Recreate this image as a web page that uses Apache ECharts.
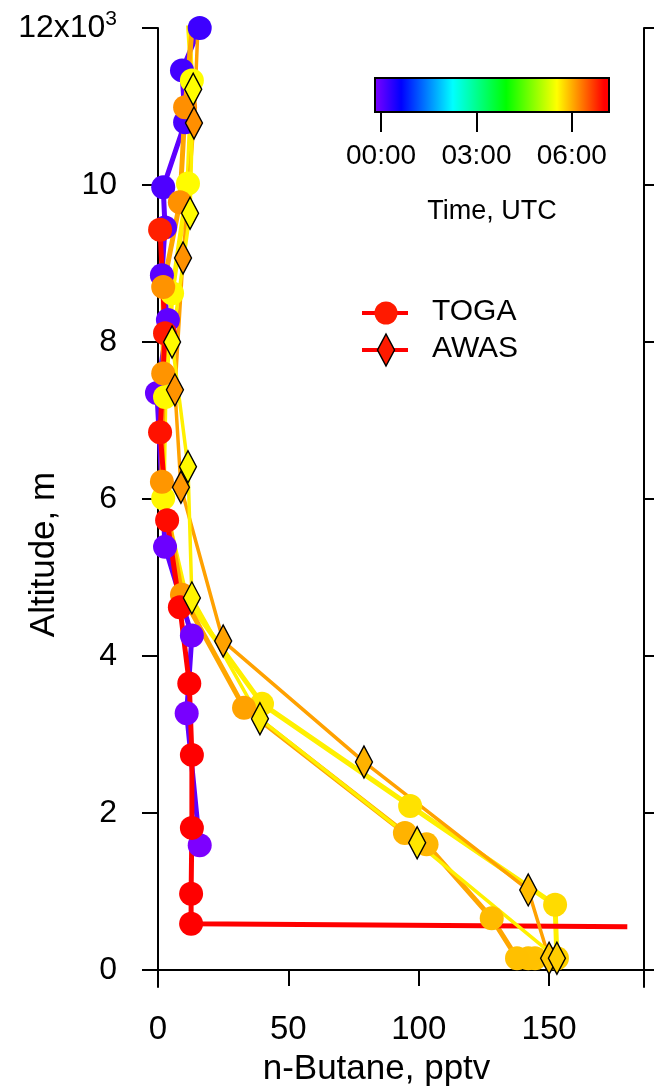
<!DOCTYPE html>
<html><head><meta charset="utf-8">
<script src="https://cdn.jsdelivr.net/npm/echarts@6/dist/echarts.min.js"></script>
<style>html,body{margin:0;padding:0;background:#fff}#c{width:654px;height:1090px}</style>
</head><body><div id="c"></div>
<script>
// ---- data (n-Butane pptv, altitude m, time UTC hours) ----
// TOGA, flight 1 (purple)
const togaPurpleX = [16, 11, 13, 2.7, -0.4, 3.8, 1.5, 2.7, 2, 10.4, 9.2, 16];
const togaPurpleAlt = [1590, 3270, 4260, 5390, 7350, 8280, 8850, 9460, 9970, 10800, 11460, 12000];
const togaPurpleT = [-0.17, -0.14, -0.1, -0.06, -0.02, 0.02, 0.06, 0.1, 0.14, 0.18, 0.22, 0.25];
// TOGA, descent (yellow)
const togaYellowX = [11.5, 13, 11.5, 5.4, 2.7, 2, 11, 39.9, 96.7, 152.3, 153];
const togaYellowAlt = [12150, 11330, 10020, 8620, 7300, 6010, 4720, 3390, 2090, 830, 150];
const togaYellowT = [5.5, 5.52, 5.53, 5.54, 5.55, 5.56, 5.6, 5.65, 5.68, 5.72, 5.78];
// TOGA, low level + ascent (orange)
const togaOrangeX = [144.6, 142, 137.7, 128, 103, 94.7, 33, 9.2, 1.5, 2, 2, 8.4, 10.4, 13.5];
const togaOrangeAlt = [150, 150, 150, 660, 1600, 1745, 3340, 4780, 6220, 7600, 8700, 9780, 10990, 12150];
const togaOrangeT = [5.86, 5.87, 5.88, 5.9, 5.93, 5.95, 6.05, 6.1, 6.12, 6.13, 6.14, 6.15, 6.16, 6.17];
// TOGA, last flight (red); final point is the low-level run, no marker
const togaRedX = [0.8, 2.7, 0.8, 3.5, 8.4, 12, 13, 13, 12.7, 12.7, 180];
const togaRedAlt = [9430, 8110, 6850, 5730, 4620, 3650, 2740, 1810, 970, 590, 550];
const togaRedT = [6.8, 6.84, 6.88, 6.92, 6.96, 7.0, 7.03, 7.06, 7.09, 7.12, 7.15];
// AWAS canisters
const awasOrangeX = [150, 142, 79, 25, 8.8, 6.5, 9.6, 13.8, 15.5];
const awasOrangeAlt = [150, 1020, 2650, 4190, 6150, 7390, 9070, 10790, 12150];
const awasOrangeT = [5.85, 5.9, 5.96, 6.05, 6.12, 6.14, 6.15, 6.16, 6.17];
const awasYellowX = [13.5, 12.3, 5.4, 11.5, 13, 39.1, 99.4, 153];
const awasYellowAlt = [11220, 9640, 8000, 6410, 4740, 3200, 1620, 150];
const awasYellowT = [5.52, 5.53, 5.54, 5.55, 5.58, 5.63, 5.66, 5.8];

const xTicks = [0, 50, 100, 150];
const yTicks = [0, 2000, 4000, 6000, 8000, 10000, 12000];
const timeTicks = [0, 3, 6];
const timeRange = [-0.19, 7.17];

// ---- colour scale (rainbow) ----
const stops = [[0, [128, 0, 255]], [0.115, [0, 0, 255]], [0.334, [0, 255, 255]], [0.56, [0, 255, 0]], [0.775, [255, 255, 0]], [0.975, [255, 0, 0]], [1, [255, 0, 0]]];
function cmap(t) {
  let f = (t - timeRange[0]) / (timeRange[1] - timeRange[0]);
  f = Math.max(0, Math.min(1, f));
  for (let i = 1; i < stops.length; i++) {
    if (f <= stops[i][0]) {
      const a = stops[i - 1], b = stops[i];
      const k = (f - a[0]) / (b[0] - a[0]);
      const c = a[1].map((v, j) => Math.round(v + (b[1][j] - v) * k));
      return 'rgb(' + c.join(',') + ')';
    }
  }
  return 'rgb(255,0,0)';
}
const mean = a => a.reduce((s, v) => s + v, 0) / a.length;

const FONT = 'Liberation Sans, Arial, sans-serif';

function mk(name, xs, alts, ts, kind, openEnd) {
  const data = xs.map((x, i) => {
    const d = { value: [x, alts[i], ts[i]], itemStyle: { color: cmap(ts[i]) } };
    if (openEnd && i === xs.length - 1) d.symbol = 'none';
    return d;
  });
  const toga = kind === 'toga';
  return {
    name: name, type: 'line', xAxisIndex: 0, yAxisIndex: 0,
    data: data,
    symbol: toga ? 'circle' : 'diamond',
    symbolSize: toga ? 24 : [17, 32],
    showAllSymbol: true,
    lineStyle: { width: toga ? 5 : 3.5, color: cmap(mean(ts)) },
    itemStyle: toga ? { borderWidth: 0 } : { borderColor: '#000', borderWidth: 1.5 },
    emphasis: { disabled: true },
    clip: true,
    z: 3
  };
}

const chart = echarts.init(document.getElementById('c'), null, { renderer: 'canvas' });
const axisLine = { show: true, lineStyle: { color: '#000', width: 2 } };
const gradStops = stops.map(s => ({ offset: s[0], color: 'rgb(' + s[1].join(',') + ')' }));

chart.setOption({
  animation: false,
  backgroundColor: '#fff',
  grid: [
    { left: 143, top: 28, width: 501, height: 959, containLabel: false, outerBoundsMode: 'none' },
    { left: 375, top: 78, width: 234, height: 34, show: true, outerBoundsMode: 'none',
      backgroundColor: { type: 'linear', x: 0, y: 0, x2: 1, y2: 0, colorStops: gradStops },
      borderColor: '#000', borderWidth: 2 }
  ],
  xAxis: [
    { gridIndex: 0, type: 'value', min: -5.75, max: 186.4,
      axisLine: axisLine,
      axisTick: { show: true, inside: false, length: 16, customValues: xTicks, lineStyle: { color: '#000', width: 2 } },
      axisLabel: { customValues: xTicks, color: '#000', fontSize: 33, fontFamily: FONT, margin: 26 },
      splitLine: { show: false },
      name: 'n-Butane, pptv', nameLocation: 'middle', nameGap: 65, nameMoveOverlap: false,
      nameTextStyle: { color: '#000', fontSize: 35, fontFamily: FONT, padding: [0, 34, 0, 0] } },
    { gridIndex: 1, type: 'value', min: timeRange[0], max: timeRange[1],
      axisLine: { show: false },
      axisTick: { show: true, inside: false, length: 20, customValues: timeTicks, lineStyle: { color: '#000', width: 2 } },
      axisLabel: { customValues: timeTicks, color: '#000', fontSize: 28, fontFamily: FONT, margin: 30,
        formatter: v => (v < 10 ? '0' : '') + Math.round(v) + ':00' },
      splitLine: { show: false },
      name: 'Time, UTC', nameLocation: 'middle', nameGap: 86, nameMoveOverlap: false,
      nameTextStyle: { color: '#000', fontSize: 27, fontFamily: FONT } }
  ],
  yAxis: [
    { gridIndex: 0, type: 'value', min: -217, max: 12000, position: 'left',
      axisLine: axisLine,
      axisTick: { show: true, inside: false, length: 16, customValues: yTicks, lineStyle: { color: '#000', width: 2 } },
      axisLabel: { customValues: yTicks, color: '#000', fontSize: 32, fontFamily: FONT, margin: 26,
        formatter: v => v === 12000 ? '12x10{s|3}' : String(v / 1000),
        rich: { s: { fontSize: 21, fontFamily: FONT, color: '#000', verticalAlign: 'top', padding: [0, 0, 18, 0] } } },
      splitLine: { show: false },
      name: 'Altitude, m', nameLocation: 'middle', nameGap: 81, nameRotate: 90, nameMoveOverlap: false,
      nameTextStyle: { color: '#000', fontSize: 35, fontFamily: FONT, padding: [0, 94, 0, 0] } },
    { gridIndex: 0, type: 'value', min: -217, max: 12000, position: 'right',
      axisLine: axisLine,
      axisTick: { show: true, inside: false, length: 16, customValues: yTicks, lineStyle: { color: '#000', width: 2 } },
      axisLabel: { show: false },
      splitLine: { show: false } },
    { gridIndex: 1, type: 'value', min: 0, max: 1, show: false }
  ],
  series: [
    mk('TOGA purple', togaPurpleX, togaPurpleAlt, togaPurpleT, 'toga'),
    mk('TOGA yellow', togaYellowX, togaYellowAlt, togaYellowT, 'toga'),
    mk('TOGA orange', togaOrangeX, togaOrangeAlt, togaOrangeT, 'toga'),
    mk('TOGA red', togaRedX, togaRedAlt, togaRedT, 'toga', true),
    mk('AWAS orange', awasOrangeX, awasOrangeAlt, awasOrangeT, 'awas'),
    mk('AWAS yellow', awasYellowX, awasYellowAlt, awasYellowT, 'awas')
  ],
  graphic: [
    { type: 'line', shape: { x1: 362, y1: 313, x2: 408, y2: 313 }, style: { stroke: '#ff0000', lineWidth: 4 }, z: 10 },
    { type: 'circle', shape: { cx: 386, cy: 313, r: 11.5 }, style: { fill: '#ff1a00' }, z: 11 },
    { type: 'text', left: 432, top: 297, style: { text: 'TOGA', font: '30px ' + FONT, fill: '#000' }, z: 11 },
    { type: 'line', shape: { x1: 362, y1: 350, x2: 408, y2: 350 }, style: { stroke: '#ff0000', lineWidth: 4 }, z: 10 },
    { type: 'polygon', shape: { points: [[386, 334], [394.5, 350], [386, 366], [377.5, 350]] }, style: { fill: '#ff1a00', stroke: '#000', lineWidth: 1.5 }, z: 11 },
    { type: 'text', left: 432, top: 334, style: { text: 'AWAS', font: '30px ' + FONT, fill: '#000' }, z: 11 }
  ]
});
</script></body></html>
